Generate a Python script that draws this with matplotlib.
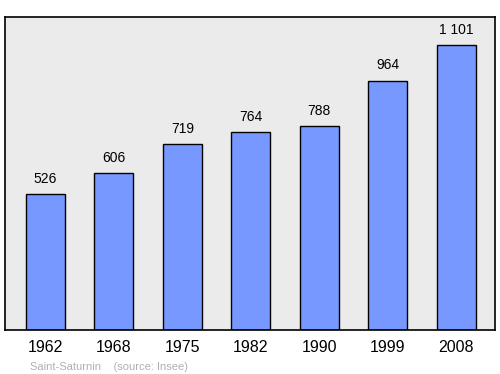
import numpy as np
from matplotlib import pyplot as plt

plt.rcParams['font.family'] = ['Liberation Sans', 'DejaVu Sans']

# population data
years = ['1962', '1968', '1975', '1982', '1990', '1999', '2008']
population = [526, 606, 719, 764, 788, 964, 1101]
value_labels = ['526', '606', '719', '764', '788', '964', '1 101']

fig = plt.figure(figsize=(5, 3.74), dpi=100)
ax = fig.add_axes([0.01, 0.1176, 0.98, 0.837])
ax.set_facecolor('#ebebeb')

x = np.arange(len(years))
ax.bar(x, population, width=0.57, color='#7799ff', edgecolor='black', linewidth=1)

for xi, v, lab in zip(x, population, value_labels):
    ax.annotate(lab, (xi, v), xytext=(0, 6), textcoords='offset points',
                ha='center', va='bottom', fontsize=10)

ax.set_xlim(-0.592, 6.57)
ax.set_ylim(0, 1210)
ax.set_yticks([])
ax.set_xticks(x)
ax.set_xticklabels(years, fontsize=11.5)
ax.tick_params(axis='x', length=0, pad=7)
for s in ax.spines.values():
    s.set_linewidth(1.2)

fig.text(0.06, 0.012, 'Saint-Saturnin    (source: Insee)', fontsize=8, color='#b0b0b0')

plt.savefig('out.png')
